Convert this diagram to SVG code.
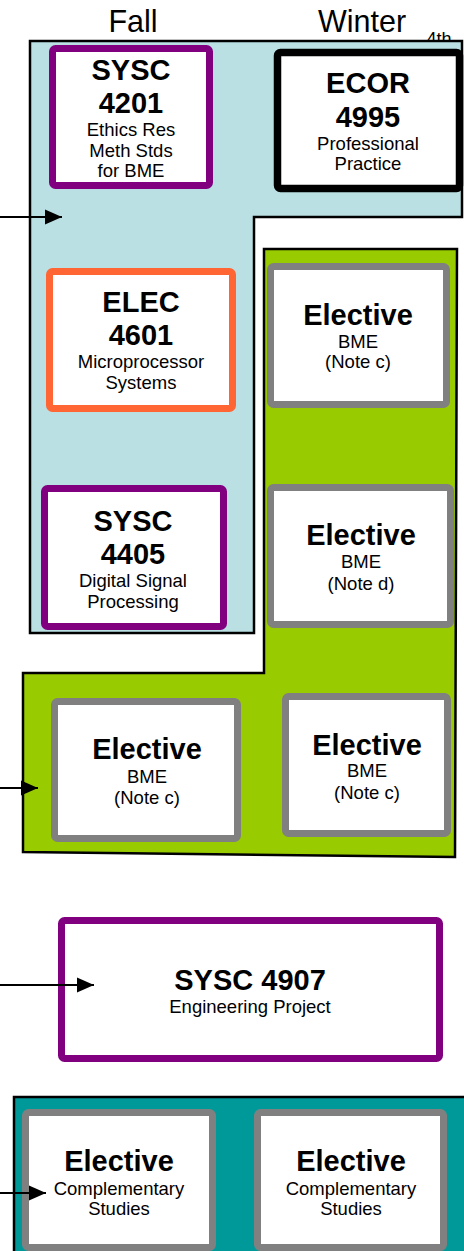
<svg xmlns="http://www.w3.org/2000/svg" width="464" height="1251" viewBox="0 0 464 1251">
<style>
.region{stroke:#000;stroke-width:2.5;stroke-linejoin:miter}
.box{fill:#fff;stroke-width:7;}
.purple{stroke:#800080}
.orange{stroke:#FF6633}
.gray{stroke:#808080}
.black{stroke:#000;stroke-width:7.5}
text{font-family:"Liberation Sans",Arial,sans-serif;fill:#000;text-anchor:middle}
.big{font-size:29px;font-weight:bold}
.small{font-size:18.5px}
.head{font-size:30.5px}
.conn{stroke:#000;stroke-width:2.2;fill:none}
</style>
<defs>
<marker id="arr" markerUnits="userSpaceOnUse" markerWidth="17" markerHeight="16" refX="17" refY="8" orient="auto">
<path d="M0,0.5 L17,8 L0,15.5 z" fill="#000"/>
</marker>
</defs>
<rect width="464" height="1251" fill="#fff"/>
<g id="labels">
<text class="head" x="133" y="32">Fall</text>
<text class="head" x="362" y="32">Winter</text>
<text x="439" y="45" style="font-size:18px">4th</text>
</g>
<g id="regions">
<polygon class="region" fill="#BAE0E3" points="30,41 462,41 462,217 254,217 254,633 30,633"/>
<polygon class="region" fill="#99CC00" points="264,249 457,249 455,857 23,852 23,673 264,673"/>
<rect class="region" fill="#009999" x="14" y="1097" width="460" height="200"/>
</g>
<g id="sysc4201">
<rect class="box purple" x="52.5" y="48.5" width="157" height="137" rx="3"/>
<text class="big" x="131" y="80">SYSC</text>
<text class="big" x="131" y="113">4201</text>
<text class="small" x="131" y="136">Ethics Res</text>
<text class="small" x="131" y="157">Meth Stds</text>
<text class="small" x="131" y="177">for BME</text>
</g>
<g id="ecor4995">
<rect class="box black" x="277.5" y="52.5" width="182" height="136" rx="3"/>
<text class="big" x="368" y="93">ECOR</text>
<text class="big" x="368" y="127">4995</text>
<text class="small" x="368" y="150">Professional</text>
<text class="small" x="368" y="170">Practice</text>
</g>
<g id="elec4601">
<rect class="box orange" x="49.5" y="271.5" width="183" height="137" rx="3"/>
<text class="big" x="141" y="312">ELEC</text>
<text class="big" x="141" y="345">4601</text>
<text class="small" x="141" y="368">Microprocessor</text>
<text class="small" x="141" y="389">Systems</text>
</g>
<g id="elective1">
<rect class="box gray" x="270.5" y="266.5" width="176" height="138" rx="3"/>
<text class="big" x="358" y="325">Elective</text>
<text class="small" x="358" y="348">BME</text>
<text class="small" x="358" y="368">(Note c)</text>
</g>
<g id="sysc4405">
<rect class="box purple" x="44.5" y="488.5" width="179" height="138" rx="3"/>
<text class="big" x="133" y="531">SYSC</text>
<text class="big" x="133" y="564">4405</text>
<text class="small" x="133" y="587">Digital Signal</text>
<text class="small" x="133" y="608">Processing</text>
</g>
<g id="elective2">
<rect class="box gray" x="270.5" y="487.5" width="180" height="137" rx="3"/>
<text class="big" x="361" y="545">Elective</text>
<text class="small" x="361" y="568">BME</text>
<text class="small" x="361" y="590">(Note d)</text>
</g>
<g id="elective3">
<rect class="box gray" x="54.5" y="701.5" width="183" height="137" rx="3"/>
<text class="big" x="147" y="759">Elective</text>
<text class="small" x="147" y="783">BME</text>
<text class="small" x="147" y="804">(Note c)</text>
</g>
<g id="elective4">
<rect class="box gray" x="285.5" y="696.5" width="162" height="137" rx="3"/>
<text class="big" x="367" y="755">Elective</text>
<text class="small" x="367" y="777">BME</text>
<text class="small" x="367" y="799">(Note c)</text>
</g>
<g id="sysc4907">
<rect class="box purple" x="61.5" y="920.5" width="378" height="138" rx="3"/>
<text class="big" x="250" y="990">SYSC 4907</text>
<text class="small" x="250" y="1013">Engineering Project</text>
</g>
<g id="comp1">
<rect class="box gray" x="25.5" y="1112.5" width="187" height="135" rx="3"/>
<text class="big" x="119" y="1171">Elective</text>
<text class="small" x="119" y="1195">Complementary</text>
<text class="small" x="119" y="1215">Studies</text>
</g>
<g id="comp2">
<rect class="box gray" x="257.5" y="1112.5" width="186" height="135" rx="3"/>
<text class="big" x="351" y="1171">Elective</text>
<text class="small" x="351" y="1195">Complementary</text>
<text class="small" x="351" y="1215">Studies</text>
</g>
<g id="connectors">
<line class="conn" x1="0" y1="217" x2="62" y2="217" marker-end="url(#arr)"/>
<line class="conn" x1="0" y1="788" x2="38" y2="788" marker-end="url(#arr)"/>
<line class="conn" x1="0" y1="985" x2="94" y2="985" marker-end="url(#arr)"/>
<line class="conn" x1="0" y1="1193" x2="46" y2="1193" marker-end="url(#arr)"/>
</g>
</svg>
